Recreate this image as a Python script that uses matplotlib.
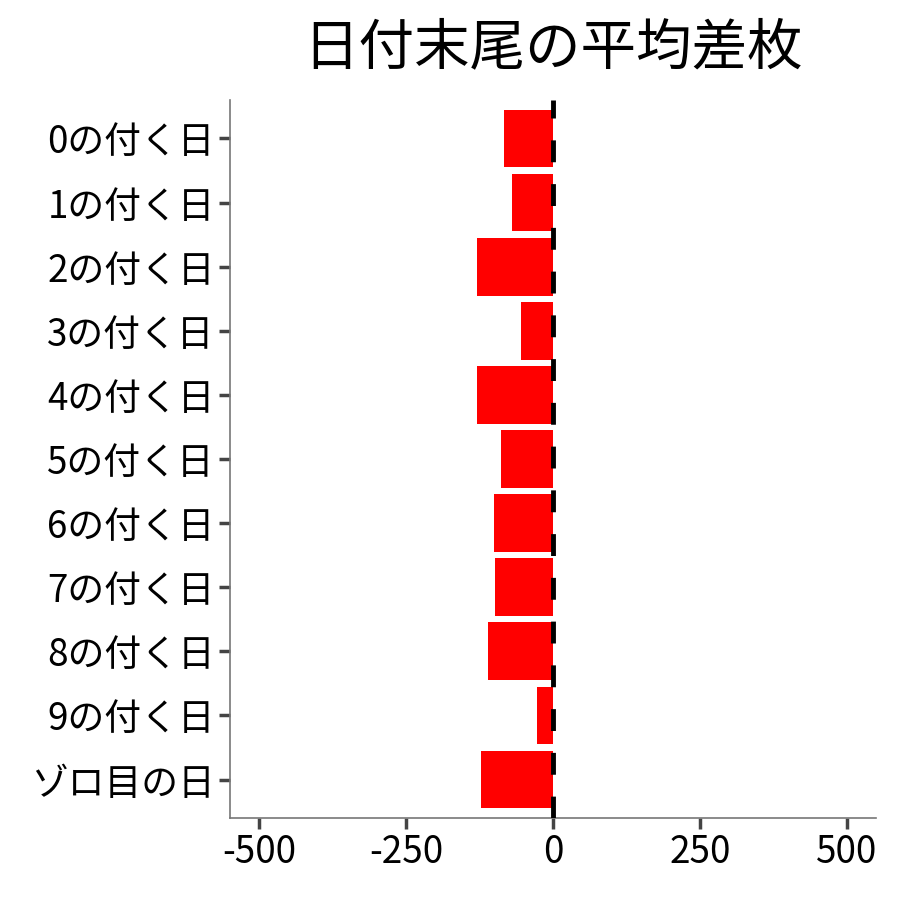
import matplotlib
matplotlib.use("Agg")
import matplotlib.pyplot as plt

plt.rcParams['font.family'] = ['Noto Sans CJK JP', 'DejaVu Sans']

# 日付末尾ごとの平均差枚
labels = ["0の付く日", "1の付く日", "2の付く日", "3の付く日", "4の付く日",
          "5の付く日", "6の付く日", "7の付く日", "8の付く日", "9の付く日",
          "ゾロ目の日"]
values = [-83, -70, -129, -54, -129, -88, -100, -99, -111, -27, -122]
xticks = [-500, -250, 0, 250, 500]
title = "日付末尾の平均差枚"

fig = plt.figure(figsize=(9, 9), dpi=100)
ax = fig.add_axes([0.2556, 0.0911, 0.7177, 0.7978])

ypos = list(range(len(labels)))
ax.barh(ypos, values, height=0.9, color="#FF0000", zorder=2)
ax.axvline(0, color="black", linestyle=(0, (4.5, 4.5)), linewidth=3.5, zorder=3)

ax.set_yticks(ypos)
ax.set_yticklabels(labels)
ax.set_ylim(len(labels) - 0.4, -0.6)
ax.set_xlim(-550, 550)
ax.set_xticks(xticks)
ax.set_xticklabels([str(v) for v in xticks])

for side in ["top", "right"]:
    ax.spines[side].set_visible(False)
for side in ["left", "bottom"]:
    ax.spines[side].set_color("#777777")
    ax.spines[side].set_linewidth(1.2)
ax.tick_params(axis="both", length=8, width=2.5, color="#444444",
               labelsize=26.5, labelcolor="black", pad=3)

ax.set_title(title, fontsize=40, pad=26)

fig.savefig("out.png", dpi=100)
